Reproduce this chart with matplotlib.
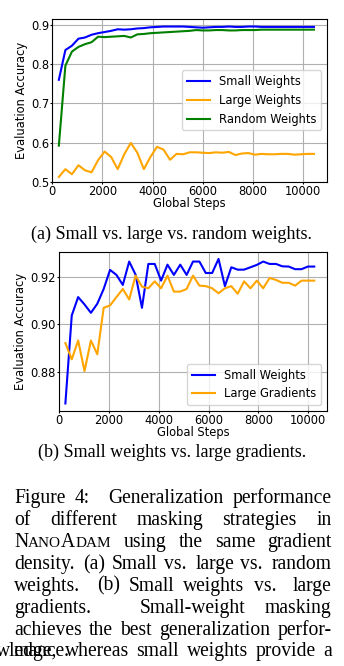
import matplotlib
matplotlib.use("Agg")
import matplotlib.pyplot as plt

# ---------------- data ----------------
# (a) masking by weight magnitude
steps_a = [261, 522, 783, 1044, 1305, 1566, 1827, 2088, 2349, 2610,
           2871, 3132, 3393, 3654, 3915, 4176, 4437, 4698, 4959, 5220,
           5481, 5742, 6003, 6264, 6525, 6786, 7047, 7308, 7569, 7830,
           8091, 8352, 8613, 8874, 9135, 9396, 9657, 9918, 10179, 10440]
small_weights_a = [0.760, 0.836, 0.847, 0.865, 0.868, 0.875, 0.879, 0.882, 0.885, 0.889,
                   0.888, 0.889, 0.891, 0.892, 0.894, 0.895, 0.896, 0.896, 0.896, 0.896,
                   0.895, 0.894, 0.893, 0.894, 0.895, 0.895, 0.896, 0.895, 0.895, 0.896,
                   0.896, 0.895, 0.895, 0.895, 0.895, 0.895, 0.895, 0.895, 0.895, 0.895]
large_weights_a = [0.512, 0.532, 0.519, 0.542, 0.529, 0.524, 0.555, 0.577, 0.563, 0.532,
                   0.570, 0.599, 0.574, 0.532, 0.563, 0.589, 0.582, 0.556, 0.571, 0.570,
                   0.575, 0.575, 0.574, 0.573, 0.575, 0.574, 0.576, 0.568, 0.572, 0.573,
                   0.569, 0.571, 0.570, 0.570, 0.571, 0.571, 0.569, 0.570, 0.571, 0.571]
random_weights_a = [0.592, 0.796, 0.832, 0.844, 0.851, 0.856, 0.870, 0.869, 0.870, 0.871,
                    0.872, 0.868, 0.876, 0.877, 0.879, 0.880, 0.881, 0.882, 0.883, 0.884,
                    0.885, 0.887, 0.886, 0.886, 0.887, 0.887, 0.886, 0.886, 0.887, 0.887,
                    0.887, 0.888, 0.888, 0.888, 0.888, 0.888, 0.888, 0.888, 0.888, 0.888]

# (b) small weights vs. large gradients
steps_b = [256, 512, 768, 1024, 1280, 1536, 1792, 2048, 2304, 2560,
           2816, 3072, 3328, 3584, 3840, 4096, 4352, 4608, 4864, 5120,
           5376, 5632, 5888, 6144, 6400, 6656, 6912, 7168, 7424, 7680,
           7936, 8192, 8448, 8704, 8960, 9216, 9472, 9728, 9984, 10240]
small_weights_b = [0.8668, 0.9037, 0.9114, 0.9083, 0.9048, 0.9086, 0.9148, 0.9228, 0.9207, 0.9165,
                   0.9263, 0.9208, 0.9069, 0.9253, 0.9253, 0.9183, 0.9250, 0.9207, 0.9250, 0.9207,
                   0.9263, 0.9263, 0.9215, 0.9215, 0.9274, 0.9160, 0.9239, 0.9229, 0.9229, 0.9239,
                   0.9249, 0.9263, 0.9253, 0.9253, 0.9243, 0.9242, 0.9231, 0.9231, 0.9242, 0.9242]
large_gradients_b = [0.8921, 0.8853, 0.8932, 0.8804, 0.8932, 0.8874, 0.9069, 0.9079, 0.9114, 0.9148,
                     0.9104, 0.9204, 0.9158, 0.9151, 0.9180, 0.9151, 0.9204, 0.9137, 0.9137, 0.9148,
                     0.9204, 0.9162, 0.9160, 0.9151, 0.9130, 0.9151, 0.9160, 0.9128, 0.9180, 0.9151,
                     0.9183, 0.9151, 0.9194, 0.9186, 0.9174, 0.9174, 0.9162, 0.9183, 0.9183, 0.9183]

labels_a = ["Small Weights", "Large Weights", "Random Weights"]
labels_b = ["Small Weights", "Large Gradients"]

subcaption_a = "(a) Small vs. large vs. random weights."
subcaption_b = "(b) Small weights vs. large gradients."

# ---------------- figure ----------------
W, H = 344, 666
fig = plt.figure(figsize=(W / 100, H / 100), dpi=100)
FS = 8.3
SERIF = "Liberation Serif"
plt.rcParams["font.family"] = "DejaVu Sans"


def axes_px(left, top, right, bottom):
    return fig.add_axes([left / W, 1 - bottom / H, (right - left) / W, (bottom - top) / H])


def style(ax):
    ax.grid(True, color="#b0b0b0", lw=0.8)
    ax.set_axisbelow(True)
    ax.tick_params(labelsize=FS, length=1.5, pad=0.7)
    ax.set_xlabel("Global Steps", fontsize=FS, labelpad=-0.5)
    ax.set_ylabel("Evaluation Accuracy", fontsize=FS, labelpad=2.5)


ax1 = axes_px(52.3, 19, 326.7, 181.7)
ax1.plot(steps_a, small_weights_a, color="blue", lw=1.5, label=labels_a[0])
ax1.plot(steps_a, large_weights_a, color="orange", lw=1.5, label=labels_a[1])
ax1.plot(steps_a, random_weights_a, color="green", lw=1.5, label=labels_a[2])
ax1.set_xlim(left=0)
ax1.set_ylim(bottom=0.5)
style(ax1)
ax1.legend(loc="center right", fontsize=FS)

ax2 = axes_px(59, 251.7, 326.7, 410.7)
ax2.plot(steps_b, small_weights_b, color="blue", lw=1.5, label=labels_b[0])
ax2.plot(steps_b, large_gradients_b, color="orange", lw=1.5, label=labels_b[1])
ax2.set_xlim(left=0)
style(ax2)
ax2.legend(loc="lower right", fontsize=FS)

fig.text(171.7 / W, 1 - 239.3 / H, subcaption_a, ha="center", va="baseline",
         family=SERIF, fontsize=12.95)
fig.text(172.5 / W, 1 - 457.3 / H, subcaption_b, ha="center", va="baseline",
         family=SERIF, fontsize=12.95)

# ---------------- justified caption ----------------
CAP_FS = 14.1
renderer = fig.canvas.get_renderer()


def place_line(words, x0, x1, baseline, size=CAP_FS, justify=True):
    em = size * 100 / 72
    items = []
    for w in words:
        pieces = w if isinstance(w, list) else [(w, 1.0)]
        arts = []
        width = 0.0
        for txt, sc in pieces:
            t = fig.text(0, 1 - baseline / H, txt, fontsize=size * sc, family=SERIF,
                         ha="left", va="baseline")
            arts.append((t, width))
            width += t.get_window_extent(renderer).width
        last = pieces[-1][0]
        items.append((arts, width, last.endswith(".") or last.endswith(":")))
    nat = 0.25 * em
    weights = [3.0 if it[2] else 1.0 for it in items[:-1]]
    total = sum(it[1] for it in items)
    if justify and weights:
        u = ((x1 - x0) - total - nat * len(weights)) / sum(weights)
    else:
        u = 0.0
    x = x0
    for i, (arts, width, _) in enumerate(items):
        for t, off in arts:
            t.set_x((x + off) / W)
        x += width
        if i < len(weights):
            x += nat + weights[i] * u


LEFT, RIGHT = 14, 331.7
lines = [
    ["Figure", "4:", "Generalization", "performance"],
    ["of", "different", "masking", "strategies", "in"],
    [[("N", 1.0), ("ANO", 0.78), ("A", 1.0), ("DAM", 0.78)], "using", "the", "same", "gradient"],
    ["density.", "(a)", "Small", "vs.", "large", "vs.", "random"],
    ["weights.", "(b)", "Small", "weights", "vs.", "large"],
    ["gradients.", "Small-weight", "masking"],
    ["achieves", "the", "best", "generalization", "perfor-"],
]
baselines = [503.3, 525.2, 547.1, 569.0, 590.9, 612.8, 634.7]
for words, yb in zip(lines, baselines):
    place_line(words, LEFT, RIGHT, yb)

place_line(["wledge,", "whereas", "small", "weights", "provide", "a"], -4, RIGHT, 655.7)
place_line(["mance."], LEFT, RIGHT, 655.7, justify=False)

fig.savefig("out.png", dpi=100)
